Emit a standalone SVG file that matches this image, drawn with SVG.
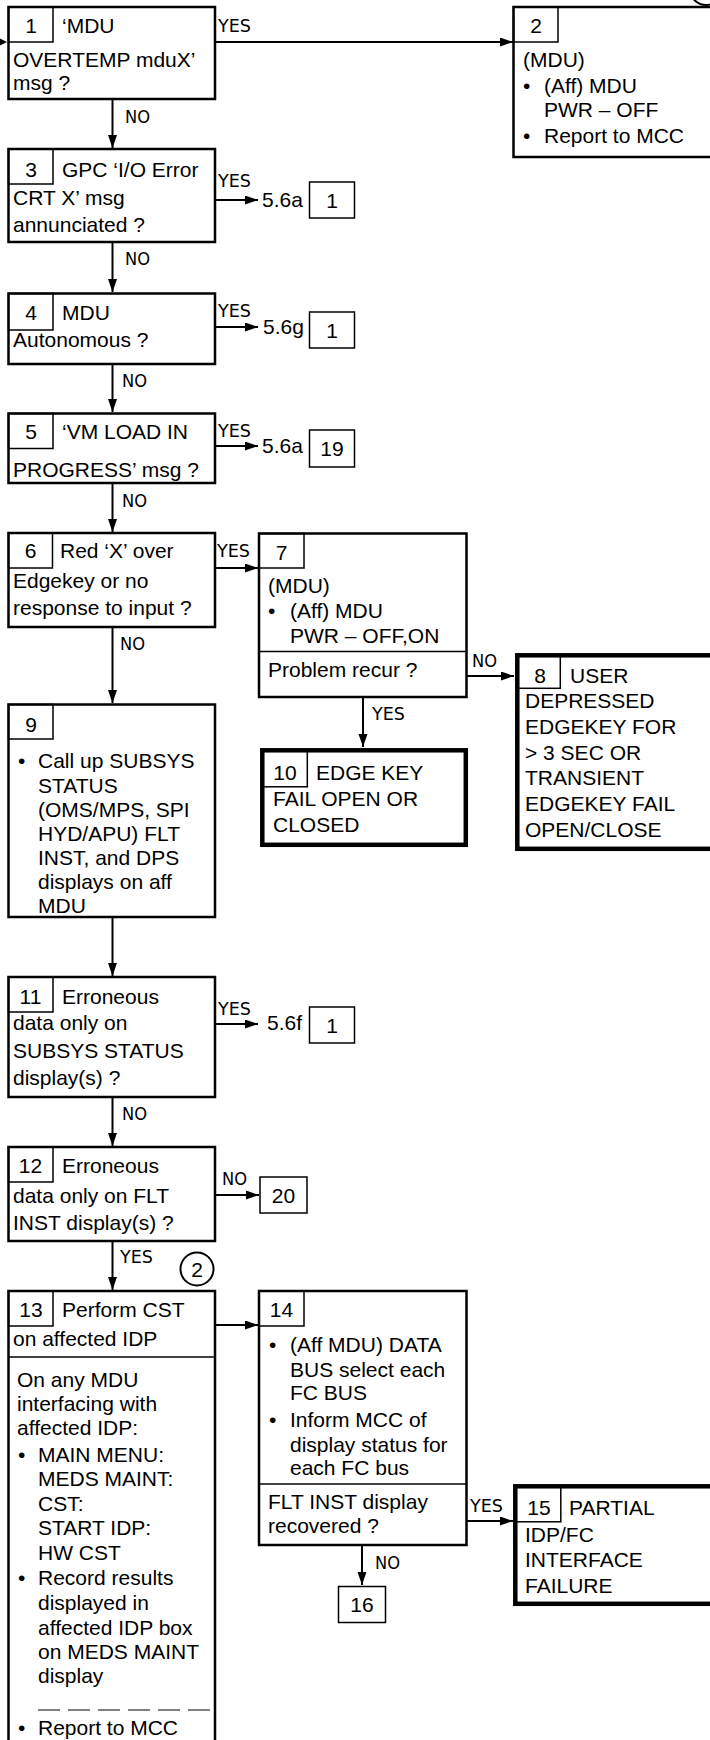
<svg xmlns="http://www.w3.org/2000/svg" width="710" height="1740" viewBox="0 0 710 1740">
<defs>
<marker id="ah" markerUnits="userSpaceOnUse" markerWidth="14" markerHeight="10" refX="13" refY="4.5" orient="auto"><path d="M0,0 L13,4.5 L0,9 z" fill="#000"/></marker>
<style>
.t{font-family:"Liberation Sans",Arial,sans-serif;font-size:21px;fill:#000}
.c{text-anchor:middle}
.l{font-family:"Liberation Sans Narrow","DejaVu Sans Condensed","Open Sans",sans-serif;font-size:18px;font-stretch:condensed;fill:#000}
.b{fill:#fff;stroke:#000;stroke-width:2.5}
.k{fill:#fff;stroke:#000;stroke-width:4.5}
.n{fill:none;stroke:#000;stroke-width:1.5}
.a{fill:none;stroke:#000;stroke-width:2;marker-end:url(#ah)}
</style>
</defs>
<rect x="0" y="0" width="710" height="1740" fill="#fff"/>
<circle cx="706" cy="-11" r="16" fill="none" stroke="#000" stroke-width="2"/>

<g id="connectors">
<path d="M0,38.5 L7,42 L0,45.5 z" fill="#000"/>
<line class="a" x1="215" y1="42" x2="513" y2="42"/>
<line class="a" x1="112.5" y1="99" x2="112.5" y2="148"/>
<line class="a" x1="215" y1="200" x2="258" y2="200"/>
<line class="a" x1="112.5" y1="242" x2="112.5" y2="292"/>
<line class="a" x1="215" y1="327" x2="258" y2="327"/>
<line class="a" x1="112.5" y1="364" x2="112.5" y2="412"/>
<line class="a" x1="215" y1="446" x2="258" y2="446"/>
<line class="a" x1="112.5" y1="483" x2="112.5" y2="532"/>
<line class="a" x1="215" y1="568" x2="258" y2="568"/>
<line class="a" x1="112.5" y1="627" x2="112.5" y2="703"/>
<line class="a" x1="466.5" y1="676" x2="514" y2="676"/>
<line class="a" x1="363" y1="697" x2="363" y2="747"/>
<line class="a" x1="112.5" y1="917" x2="112.5" y2="976"/>
<line class="a" x1="215" y1="1024" x2="258" y2="1024"/>
<line class="a" x1="112.5" y1="1097" x2="112.5" y2="1146"/>
<line class="a" x1="215" y1="1195" x2="259" y2="1195"/>
<line class="a" x1="112.5" y1="1241" x2="112.5" y2="1290"/>
<line class="a" x1="215" y1="1325" x2="258" y2="1325"/>
<line class="a" x1="466.5" y1="1521" x2="513" y2="1521"/>
<line class="a" x1="362" y1="1545" x2="362" y2="1585"/>
<text class="l" x="218" y="32" textLength="33" lengthAdjust="spacingAndGlyphs">YES</text>
<text class="l" x="125" y="123" textLength="25" lengthAdjust="spacingAndGlyphs">NO</text>
<text class="l" x="218" y="187" textLength="33" lengthAdjust="spacingAndGlyphs">YES</text>
<text class="l" x="125" y="265" textLength="25" lengthAdjust="spacingAndGlyphs">NO</text>
<text class="l" x="218" y="317" textLength="33" lengthAdjust="spacingAndGlyphs">YES</text>
<text class="l" x="122" y="387" textLength="25" lengthAdjust="spacingAndGlyphs">NO</text>
<text class="l" x="218" y="437" textLength="33" lengthAdjust="spacingAndGlyphs">YES</text>
<text class="l" x="122" y="507" textLength="25" lengthAdjust="spacingAndGlyphs">NO</text>
<text class="l" x="217" y="557" textLength="33" lengthAdjust="spacingAndGlyphs">YES</text>
<text class="l" x="120" y="650" textLength="25" lengthAdjust="spacingAndGlyphs">NO</text>
<text class="l" x="472" y="667" textLength="25" lengthAdjust="spacingAndGlyphs">NO</text>
<text class="l" x="372" y="720" textLength="33" lengthAdjust="spacingAndGlyphs">YES</text>
<text class="l" x="218" y="1015" textLength="33" lengthAdjust="spacingAndGlyphs">YES</text>
<text class="l" x="122" y="1120" textLength="25" lengthAdjust="spacingAndGlyphs">NO</text>
<text class="l" x="222" y="1185" textLength="25" lengthAdjust="spacingAndGlyphs">NO</text>
<text class="l" x="120" y="1263" textLength="33" lengthAdjust="spacingAndGlyphs">YES</text>
<text class="l" x="470" y="1512" textLength="33" lengthAdjust="spacingAndGlyphs">YES</text>
<text class="l" x="375" y="1569" textLength="25" lengthAdjust="spacingAndGlyphs">NO</text>
</g>

<g id="n1">
<rect class="b" x="8.5" y="7" width="206.5" height="92"/>
<rect class="n" x="8.5" y="7" width="44.5" height="35"/>
<text class="t c" x="31" y="33">1</text>
<text class="t" x="62" y="33">‘MDU</text>
<text class="t" x="13" y="67">OVERTEMP mduX’</text>
<text class="t" x="13" y="90">msg ?</text>
</g>

<g id="n2">
<rect class="b" x="513.5" y="7" width="200" height="150"/>
<rect class="n" x="513.5" y="7" width="44.5" height="35"/>
<text class="t c" x="536" y="33">2</text>
<text class="t" x="523" y="67">(MDU)</text>
<text class="t" x="523" y="93">•</text>
<text class="t" x="544" y="93">(Aff) MDU</text>
<text class="t" x="544" y="117">PWR – OFF</text>
<text class="t" x="523" y="143">•</text>
<text class="t" x="544" y="143">Report to MCC</text>
</g>

<g id="n3">
<rect class="b" x="8.5" y="149" width="206.5" height="93"/>
<rect class="n" x="8.5" y="149" width="44.5" height="35"/>
<text class="t c" x="31" y="177">3</text>
<text class="t" x="62" y="177">GPC ‘I/O Error</text>
<text class="t" x="13" y="205">CRT X’ msg</text>
<text class="t" x="13" y="232">annunciated ?</text>
</g>

<g id="r3">
<text class="t" x="262" y="207">5.6a</text>
<rect class="n" x="309.5" y="182" width="45" height="36"/>
<text class="t c" x="332" y="207.5">1</text>
</g>

<g id="n4">
<rect class="b" x="8.5" y="293.5" width="206.5" height="70.5"/>
<rect class="n" x="8.5" y="293.5" width="44.5" height="36.5"/>
<text class="t c" x="31" y="320">4</text>
<text class="t" x="62" y="320">MDU</text>
<text class="t" x="13" y="347">Autonomous ?</text>
</g>

<g id="r4">
<text class="t" x="263" y="334">5.6g</text>
<rect class="n" x="309.5" y="312" width="45" height="36"/>
<text class="t c" x="332" y="337.5">1</text>
</g>

<g id="n5">
<rect class="b" x="8.5" y="413.5" width="206.5" height="69.5"/>
<rect class="n" x="8.5" y="413.5" width="44.5" height="35"/>
<text class="t c" x="31" y="439">5</text>
<text class="t" x="62" y="439">‘VM LOAD IN</text>
<text class="t" x="13" y="477">PROGRESS’ msg ?</text>
</g>

<g id="r5">
<text class="t" x="262" y="453">5.6a</text>
<rect class="n" x="309.5" y="430" width="45" height="37"/>
<text class="t c" x="332" y="456">19</text>
</g>

<g id="n6">
<rect class="b" x="8.5" y="533" width="206.5" height="94"/>
<rect class="n" x="8.5" y="533" width="44" height="35"/>
<text class="t c" x="30.5" y="558">6</text>
<text class="t" x="60" y="558">Red ‘X’ over</text>
<text class="t" x="13" y="588">Edgekey or no</text>
<text class="t" x="13" y="615">response to input ?</text>
</g>

<g id="n7">
<rect class="b" x="259" y="533.5" width="207.5" height="163.5"/>
<rect class="n" x="259" y="533.5" width="45" height="34.5"/>
<line class="n" x1="259" y1="651.5" x2="466.5" y2="651.5"/>
<text class="t c" x="281.5" y="560">7</text>
<text class="t" x="268" y="593">(MDU)</text>
<text class="t" x="268" y="618">•</text>
<text class="t" x="290" y="618">(Aff) MDU</text>
<text class="t" x="290" y="643">PWR – OFF,ON</text>
<text class="t" x="268" y="677">Problem recur ?</text>
</g>

<g id="n8">
<rect class="k" x="517.3" y="655.3" width="200" height="193.5"/>
<rect class="n" x="517.3" y="655.3" width="43" height="33"/>
<text class="t c" x="540" y="683">8</text>
<text class="t" x="570" y="683">USER</text>
<text class="t" x="525" y="708">DEPRESSED</text>
<text class="t" x="525" y="734">EDGEKEY FOR</text>
<text class="t" x="525" y="760">&gt; 3 SEC OR</text>
<text class="t" x="525" y="785">TRANSIENT</text>
<text class="t" x="525" y="811">EDGEKEY FAIL</text>
<text class="t" x="525" y="837">OPEN/CLOSE</text>
</g>

<g id="n10">
<rect class="k" x="262.3" y="750.3" width="203.5" height="94.5"/>
<rect class="n" x="262.3" y="750.3" width="45" height="36.5"/>
<text class="t c" x="285" y="780">10</text>
<text class="t" x="316" y="780">EDGE KEY</text>
<text class="t" x="273" y="806">FAIL OPEN OR</text>
<text class="t" x="273" y="832">CLOSED</text>
</g>

<g id="n9">
<rect class="b" x="8.5" y="704.5" width="206.5" height="212.5"/>
<rect class="n" x="8.5" y="704.5" width="44.5" height="34.5"/>
<text class="t c" x="31" y="732">9</text>
<text class="t" x="18" y="768">•</text>
<text class="t" x="38" y="768">Call up SUBSYS</text>
<text class="t" x="38" y="793">STATUS</text>
<text class="t" x="38" y="817">(OMS/MPS, SPI</text>
<text class="t" x="38" y="841">HYD/APU) FLT</text>
<text class="t" x="38" y="865">INST, and DPS</text>
<text class="t" x="38" y="889">displays on aff</text>
<text class="t" x="38" y="913">MDU</text>
</g>

<g id="n11">
<rect class="b" x="8.5" y="977" width="206.5" height="120"/>
<rect class="n" x="8.5" y="977" width="44.5" height="35"/>
<text class="t c" x="30.5" y="1004">11</text>
<text class="t" x="62" y="1004">Erroneous</text>
<text class="t" x="13" y="1030">data only on</text>
<text class="t" x="13" y="1058">SUBSYS STATUS</text>
<text class="t" x="13" y="1085">display(s) ?</text>
</g>

<g id="r11">
<text class="t" x="267" y="1030">5.6f</text>
<rect class="n" x="309.5" y="1007" width="45" height="36"/>
<text class="t c" x="332" y="1032.5">1</text>
</g>

<g id="n12">
<rect class="b" x="8.5" y="1147" width="206.5" height="94"/>
<rect class="n" x="8.5" y="1147" width="44.5" height="35"/>
<text class="t c" x="30.5" y="1173">12</text>
<text class="t" x="62" y="1173">Erroneous</text>
<text class="t" x="13" y="1203">data only on FLT</text>
<text class="t" x="13" y="1230">INST display(s) ?</text>
</g>

<g id="n20">
<rect class="n" x="260" y="1177" width="47" height="36"/>
<text class="t c" x="283.5" y="1202.5">20</text>
</g>

<g id="c2">
<circle cx="197" cy="1269" r="16.5" fill="#fff" stroke="#000" stroke-width="2"/>
<text class="t c" x="197" y="1276.5">2</text>
</g>

<g id="n13">
<rect class="b" x="8.5" y="1291" width="206.5" height="470"/>
<rect class="n" x="8.5" y="1291" width="44.5" height="35"/>
<line class="n" x1="8.5" y1="1357" x2="215" y2="1357"/>
<text class="t c" x="31" y="1317">13</text>
<text class="t" x="62" y="1317">Perform CST</text>
<text class="t" x="13" y="1346">on affected IDP</text>
<text class="t" x="17" y="1387">On any MDU</text>
<text class="t" x="17" y="1411">interfacing with</text>
<text class="t" x="17" y="1435">affected IDP:</text>
<text class="t" x="18" y="1462">•</text>
<text class="t" x="38" y="1462">MAIN MENU:</text>
<text class="t" x="38" y="1486">MEDS MAINT:</text>
<text class="t" x="38" y="1511">CST:</text>
<text class="t" x="38" y="1535">START IDP:</text>
<text class="t" x="38" y="1560">HW CST</text>
<text class="t" x="18" y="1585">•</text>
<text class="t" x="38" y="1585">Record results</text>
<text class="t" x="38" y="1610">displayed in</text>
<text class="t" x="38" y="1635">affected IDP box</text>
<text class="t" x="38" y="1659">on MEDS MAINT</text>
<text class="t" x="38" y="1683">display</text>
<line x1="38" y1="1710" x2="210" y2="1710" stroke="#000" stroke-width="1.2" stroke-dasharray="22 8"/>
<text class="t" x="18" y="1735">•</text>
<text class="t" x="38" y="1735">Report to MCC</text>
</g>

<g id="n14">
<rect class="b" x="259" y="1291" width="207.5" height="254"/>
<rect class="n" x="259" y="1291" width="45" height="35"/>
<line class="n" x1="259" y1="1484" x2="466.5" y2="1484"/>
<text class="t c" x="281.5" y="1317">14</text>
<text class="t" x="269" y="1352">•</text>
<text class="t" x="290" y="1352">(Aff MDU) DATA</text>
<text class="t" x="290" y="1377">BUS select each</text>
<text class="t" x="290" y="1400">FC BUS</text>
<text class="t" x="269" y="1427">•</text>
<text class="t" x="290" y="1427">Inform MCC of</text>
<text class="t" x="290" y="1452">display status for</text>
<text class="t" x="290" y="1475">each FC bus</text>
<text class="t" x="268" y="1509">FLT INST display</text>
<text class="t" x="268" y="1533">recovered ?</text>
</g>

<g id="n15">
<rect class="k" x="515.3" y="1486.3" width="200" height="117.5"/>
<rect class="n" x="515.3" y="1486.3" width="45.5" height="35.5"/>
<text class="t c" x="539" y="1515">15</text>
<text class="t" x="569" y="1515">PARTIAL</text>
<text class="t" x="525" y="1542">IDP/FC</text>
<text class="t" x="525" y="1567">INTERFACE</text>
<text class="t" x="525" y="1593">FAILURE</text>
</g>

<g id="n16">
<rect class="n" x="338.5" y="1586.5" width="47" height="36"/>
<text class="t c" x="362" y="1612">16</text>
</g>
</svg>
